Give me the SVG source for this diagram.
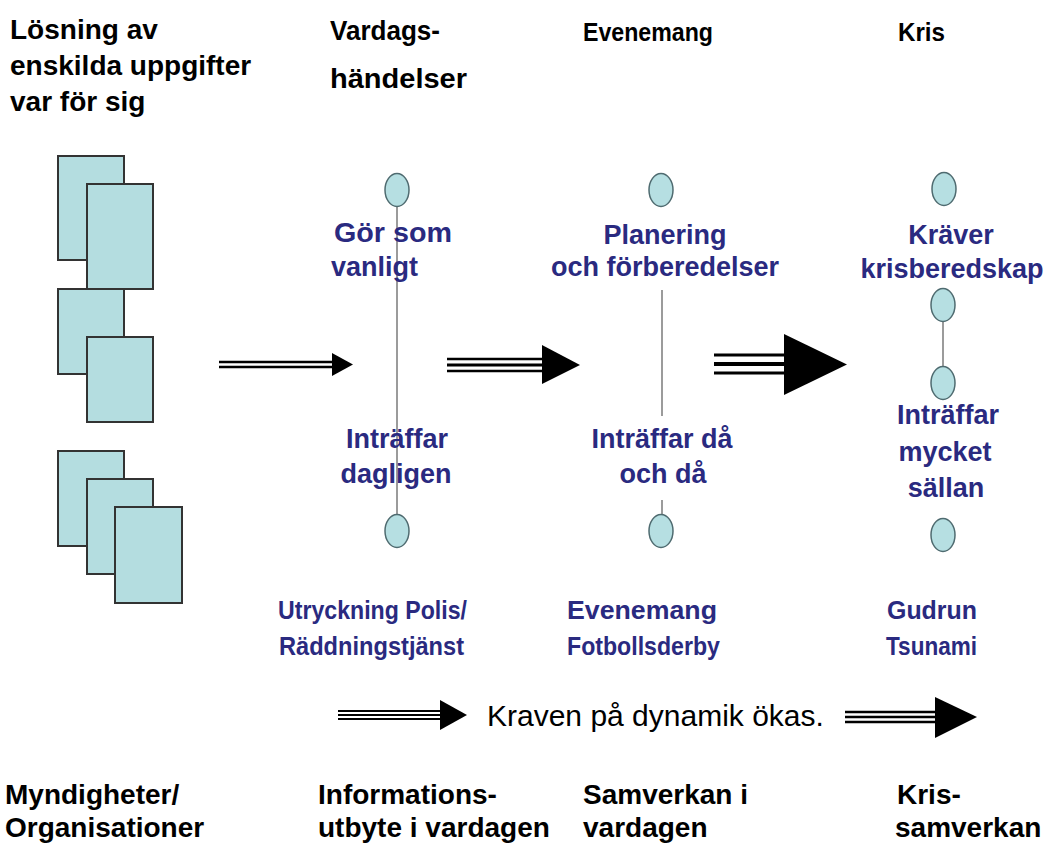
<svg xmlns="http://www.w3.org/2000/svg" width="1048" height="843" viewBox="0 0 1048 843">
  <style>
    .hdr { font-family: "Liberation Sans", Arial, sans-serif; font-weight: bold; fill: #000; }
    .lbl { font-family: "Liberation Sans", Arial, sans-serif; font-weight: bold; fill: #2a2a80; }
    .mid { text-anchor: middle; }
    .card { fill: #b4dde0; stroke: #333; stroke-width: 2; }
    .dot { fill: #b6dfe2; stroke: #4f6b70; stroke-width: 1.5; }
    .axis { stroke: #7a7a7a; stroke-width: 1.5; fill: none; }
    .shaft { stroke: #000; fill: none; }
    .head { fill: #000; }
  </style>

  <rect width="1048" height="843" fill="#fff"/>

  <!-- Column headings -->
  <g id="heading-tasks">
    <text class="hdr" x="10" y="39" font-size="28">Lösning av</text>
    <text class="hdr" x="10" y="75" font-size="28">enskilda uppgifter</text>
    <text class="hdr" x="10" y="111" font-size="28">var för sig</text>
  </g>
  <g id="heading-everyday">
    <text class="hdr" x="330" y="40" font-size="27" textLength="110" lengthAdjust="spacingAndGlyphs">Vardags-</text>
    <text class="hdr" x="330" y="88" font-size="28" textLength="137" lengthAdjust="spacingAndGlyphs">händelser</text>
  </g>
  <g id="heading-event">
    <text class="hdr" x="583" y="41" font-size="26" textLength="130" lengthAdjust="spacingAndGlyphs">Evenemang</text>
  </g>
  <g id="heading-crisis">
    <text class="hdr" x="898" y="41" font-size="26" textLength="47" lengthAdjust="spacingAndGlyphs">Kris</text>
  </g>

  <!-- Stacked task cards -->
  <g id="cards-pair-1">
    <rect class="card" x="58" y="156" width="66" height="104"/>
    <rect class="card" x="87" y="184" width="66" height="105"/>
  </g>
  <g id="cards-pair-2">
    <rect class="card" x="58" y="289" width="66" height="85"/>
    <rect class="card" x="87" y="337" width="66" height="85"/>
  </g>
  <g id="cards-triple">
    <rect class="card" x="58" y="451" width="66" height="95"/>
    <rect class="card" x="87" y="479" width="66" height="95"/>
    <rect class="card" x="115" y="507" width="67" height="96"/>
  </g>

  <!-- Vertical scale lines -->
  <g id="connectors">
    <line class="axis" x1="397" y1="206" x2="397" y2="515"/>
    <line class="axis" x1="662" y1="290" x2="662" y2="416"/>
    <line class="axis" x1="662" y1="500" x2="662" y2="515"/>
    <line class="axis" x1="943" y1="321" x2="943" y2="367"/>
  </g>

  <!-- Progression arrows -->
  <g id="arrows">
    <g id="arrow-1">
      <line class="shaft" x1="219" y1="362" x2="334" y2="362" stroke-width="2.5"/>
      <line class="shaft" x1="219" y1="367" x2="334" y2="367" stroke-width="2.5"/>
      <polygon class="head" points="332,353 353,364.5 332,376"/>
    </g>
    <g id="arrow-2">
      <line class="shaft" x1="447" y1="359" x2="544" y2="359" stroke-width="2.5"/>
      <line class="shaft" x1="447" y1="365" x2="544" y2="365" stroke-width="3"/>
      <line class="shaft" x1="447" y1="371" x2="544" y2="371" stroke-width="2.5"/>
      <polygon class="head" points="542,345 580,365 542,384"/>
    </g>
    <g id="arrow-3">
      <line class="shaft" x1="714" y1="355" x2="786" y2="355" stroke-width="3"/>
      <line class="shaft" x1="714" y1="364" x2="786" y2="364" stroke-width="4"/>
      <line class="shaft" x1="714" y1="373" x2="786" y2="373" stroke-width="3"/>
      <polygon class="head" points="784,334 847,364.5 784,395"/>
    </g>
    <g id="arrow-bottom-left">
      <line class="shaft" x1="338" y1="711" x2="442" y2="711" stroke-width="2"/>
      <line class="shaft" x1="338" y1="715" x2="442" y2="715" stroke-width="2"/>
      <line class="shaft" x1="338" y1="719" x2="442" y2="719" stroke-width="2"/>
      <polygon class="head" points="440,700 467,715 440,730"/>
    </g>
    <g id="arrow-bottom-right">
      <line class="shaft" x1="845" y1="712" x2="937" y2="712" stroke-width="2.5"/>
      <line class="shaft" x1="845" y1="717" x2="937" y2="717" stroke-width="2.5"/>
      <line class="shaft" x1="845" y1="722" x2="937" y2="722" stroke-width="2.5"/>
      <polygon class="head" points="935,697 977,717 935,738"/>
    </g>
  </g>

  <!-- Everyday column -->
  <g id="everyday-top">
    <ellipse class="dot" cx="397" cy="190" rx="12" ry="16.5"/>
    <text class="lbl" x="334" y="242" font-size="27" textLength="118" lengthAdjust="spacingAndGlyphs">Gör som</text>
    <text class="lbl" x="331" y="276" font-size="27">vanligt</text>
  </g>
  <g id="everyday-bottom">
    <text class="lbl mid" x="397" y="448" font-size="27">Inträffar</text>
    <text class="lbl mid" x="396" y="483" font-size="27">dagligen</text>
    <ellipse class="dot" cx="397" cy="531" rx="12" ry="16.5"/>
  </g>
  <g id="everyday-example">
    <text class="lbl" x="278" y="619" font-size="26" textLength="189" lengthAdjust="spacingAndGlyphs">Utryckning Polis/</text>
    <text class="lbl" x="279" y="655" font-size="26" textLength="185" lengthAdjust="spacingAndGlyphs">Räddningstjänst</text>
  </g>

  <!-- Event column -->
  <g id="event-top">
    <ellipse class="dot" cx="661" cy="190" rx="12" ry="16.5"/>
    <text class="lbl mid" x="665" y="244" font-size="27">Planering</text>
    <text class="lbl mid" x="665" y="276" font-size="27">och förberedelser</text>
  </g>
  <g id="event-bottom">
    <text class="lbl mid" x="662" y="448" font-size="27">Inträffar då</text>
    <text class="lbl mid" x="663" y="483" font-size="27">och då</text>
    <ellipse class="dot" cx="661" cy="531" rx="12" ry="16.5"/>
  </g>
  <g id="event-example">
    <text class="lbl" x="567" y="619" font-size="26" textLength="150" lengthAdjust="spacingAndGlyphs">Evenemang</text>
    <text class="lbl" x="567" y="655" font-size="26" textLength="153" lengthAdjust="spacingAndGlyphs">Fotbollsderby</text>
  </g>

  <!-- Crisis column -->
  <g id="crisis-top">
    <ellipse class="dot" cx="944" cy="189" rx="12" ry="16.5"/>
    <text class="lbl mid" x="951" y="244" font-size="27">Kräver</text>
    <text class="lbl mid" x="952" y="278" font-size="27">krisberedskap</text>
  </g>
  <g id="crisis-mid">
    <ellipse class="dot" cx="943" cy="305" rx="12" ry="16.5"/>
    <ellipse class="dot" cx="943" cy="383" rx="12" ry="16.5"/>
  </g>
  <g id="crisis-bottom">
    <text class="lbl mid" x="948" y="424" font-size="27">Inträffar</text>
    <text class="lbl mid" x="945" y="461" font-size="27">mycket</text>
    <text class="lbl mid" x="946" y="497" font-size="27">sällan</text>
    <ellipse class="dot" cx="943" cy="535" rx="12" ry="16.5"/>
  </g>
  <g id="crisis-example">
    <text class="lbl" x="887" y="619" font-size="26" textLength="90" lengthAdjust="spacingAndGlyphs">Gudrun</text>
    <text class="lbl" x="886" y="655" font-size="26" textLength="91" lengthAdjust="spacingAndGlyphs">Tsunami</text>
  </g>

  <!-- Dynamics caption -->
  <g id="caption">
    <text x="487" y="726" font-family="Liberation Sans, Arial, sans-serif" font-size="30" fill="#000">Kraven på dynamik ökas.</text>
  </g>

  <!-- Collaboration levels -->
  <g id="level-authorities">
    <text class="hdr" x="5" y="804" font-size="28">Myndigheter/</text>
    <text class="hdr" x="5" y="837" font-size="28">Organisationer</text>
  </g>
  <g id="level-information">
    <text class="hdr" x="318" y="804" font-size="28">Informations-</text>
    <text class="hdr" x="318" y="837" font-size="28">utbyte i vardagen</text>
  </g>
  <g id="level-cooperation">
    <text class="hdr" x="583" y="804" font-size="28">Samverkan i</text>
    <text class="hdr" x="583" y="837" font-size="28">vardagen</text>
  </g>
  <g id="level-crisis">
    <text class="hdr" x="897" y="804" font-size="28">Kris-</text>
    <text class="hdr" x="895" y="837" font-size="28">samverkan</text>
  </g>
</svg>
